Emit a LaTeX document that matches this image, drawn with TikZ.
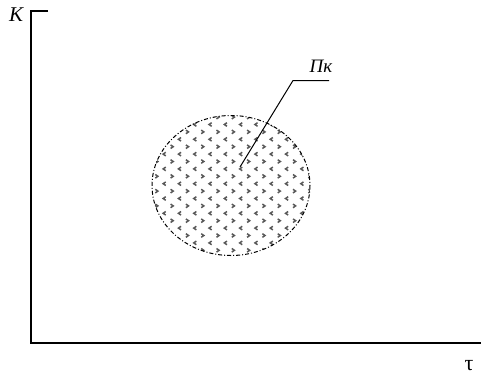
\documentclass[tikz,border=0pt]{standalone}
\usepackage{fontspec}
\setmainfont{Liberation Serif}
\begin{document}
\begin{tikzpicture}[x=1pt,y=-1pt,
  axis/.style={line width=1.2pt,black},
  region/.style={line width=1pt,dash pattern=on 4pt off 2pt on 1pt off 2pt},
  chev/.style={gray!70!black,line width=1.5pt},
  lbl/.style={inner sep=0pt}]
\useasboundingbox (0,0) rectangle (481,375);
% axes
\coordinate (tick) at (48,11);
\coordinate (origin) at (31,343);
\coordinate (top) at (31,11);
\coordinate (xend) at (481,343);
\draw[axis] (tick) -- (top) -- (origin) -- (xend);
\node[lbl,font=\fontsize{21}{21}\selectfont\itshape] (K) at (16,15) {К};
\node[lbl,font=\fontsize{22}{22}\selectfont] (tau) at (469,366) {τ};
% region with pattern
\begin{scope}
\clip (231,185.5) ellipse [x radius=79, y radius=70];
\foreach \k in {0,...,20}{
  \foreach \j in {-3,...,10}{
    \pgfmathsetmacro\xx{187.3+15.3*\j-7.65*mod(\k+1,2)}
    \pgfmathsetmacro\yy{109.7+7.4*\k}
    \pgfmathsetmacro\ss{ifthenelse(mod(\k,2)==0,1,-1)}
    \draw[chev] (\xx+1.4*\ss,\yy-1.8) -- (\xx-1.2*\ss,\yy) -- (\xx+1.4*\ss,\yy+1.8);
  }
}
\end{scope}
\draw[region] (231,185.5) ellipse [x radius=79, y radius=70];
% label with leader
\node[lbl,font=\fontsize{19}{19}\selectfont\itshape] (Pk) at (321,66) {Пк};
\coordinate (lend) at (329,80.5);
\coordinate (knee) at (293,80.5);
\coordinate (tip) at (240,167);
\draw[line width=1pt] (lend) -- (knee) -- (tip);
\end{tikzpicture}
\end{document}
